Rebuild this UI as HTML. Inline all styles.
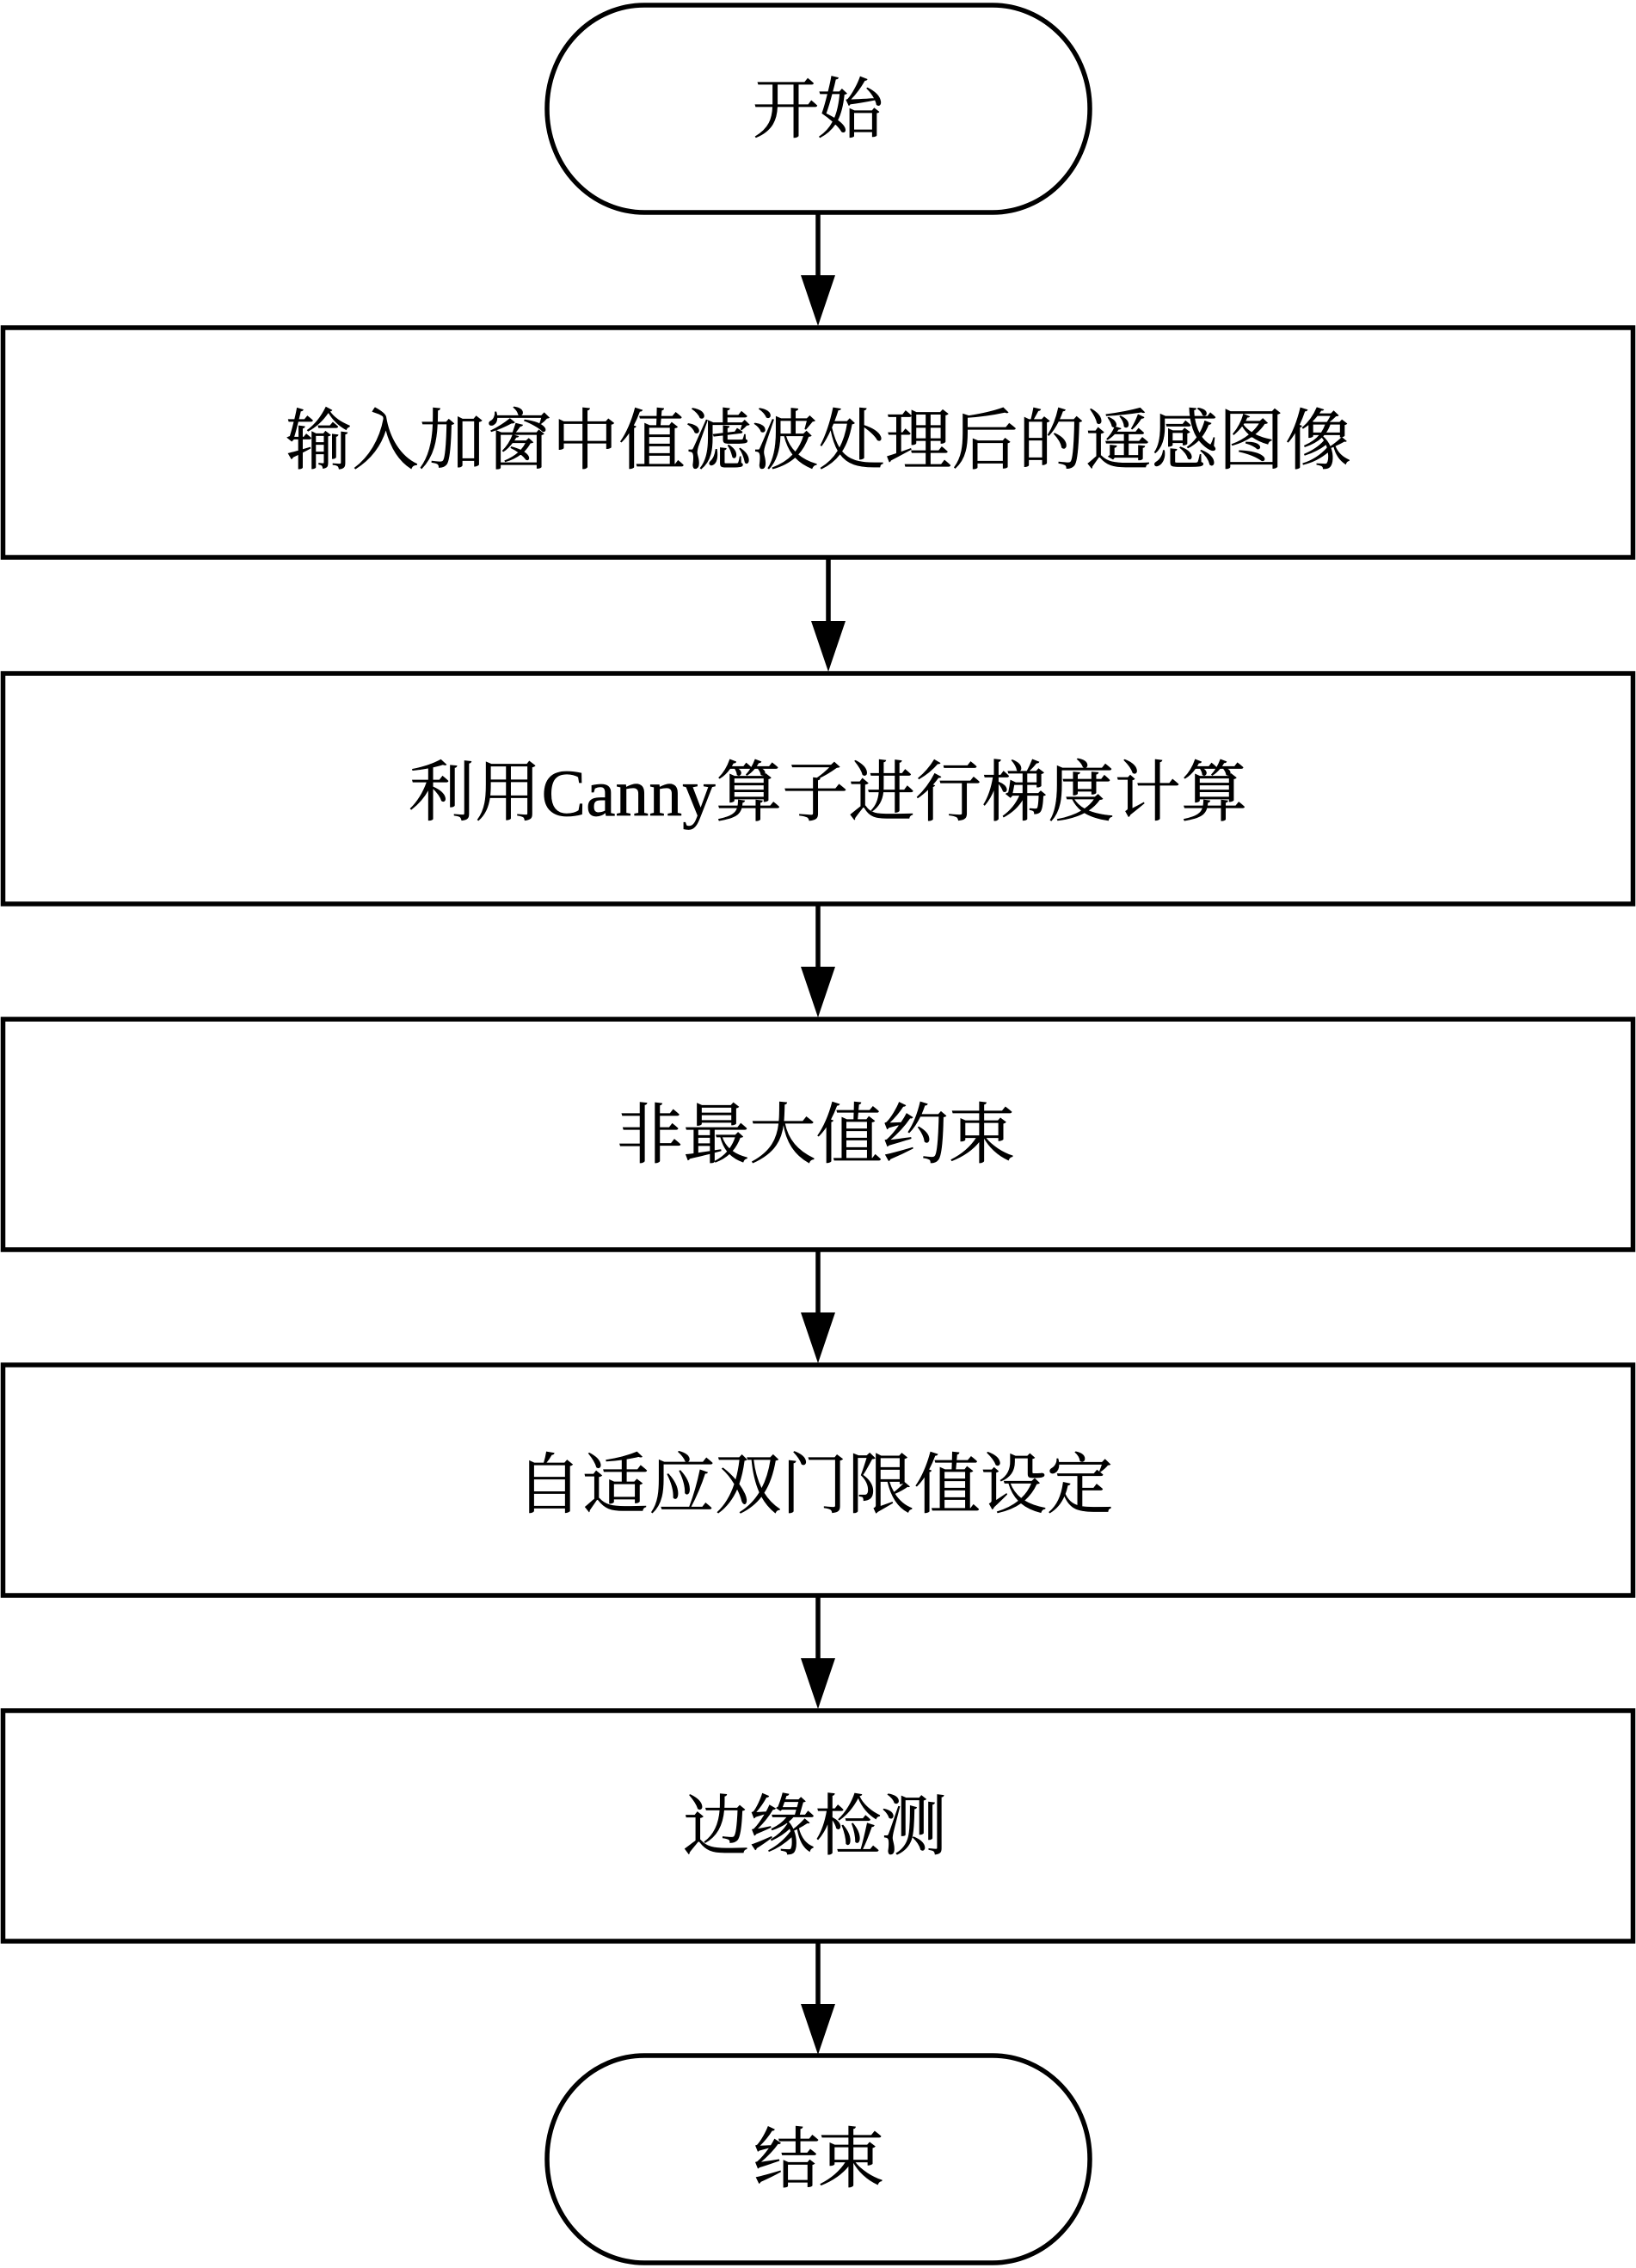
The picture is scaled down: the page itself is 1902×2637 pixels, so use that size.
<!DOCTYPE html>
<html lang="zh">
<head>
<meta charset="utf-8">
<title>流程图</title>
<style>
html,body{margin:0;padding:0;background:#fff;width:1902px;height:2637px;overflow:hidden}
svg{display:block}
text{font-family:"Liberation Serif","Noto Serif CJK SC",serif;font-size:77px;fill:#000;stroke:#000;stroke-width:.7px}
</style>
</head>
<body>
<svg xmlns="http://www.w3.org/2000/svg" width="1902" height="2637" viewBox="0 0 1902 2637">
<rect width="1902" height="2637" fill="#fff"/>
<g fill="#fff" stroke="#000" stroke-width="5.5">
<rect x="636" y="6" width="631" height="241" rx="113" ry="120"/>
<rect x="3.5" y="381" width="1895" height="267"/>
<rect x="3.5" y="783" width="1895" height="268"/>
<rect x="3.5" y="1185" width="1895" height="268"/>
<rect x="3.5" y="1587" width="1895" height="268"/>
<rect x="3.5" y="1989" width="1895" height="268"/>
<rect x="636" y="2390" width="631" height="241" rx="113" ry="120"/>
</g>
<g stroke="#000" stroke-width="5.5">
<line x1="951" y1="247" x2="951" y2="330"/>
<line x1="963" y1="648" x2="963" y2="732"/>
<line x1="951" y1="1051" x2="951" y2="1134"/>
<line x1="951" y1="1453" x2="951" y2="1536"/>
<line x1="951" y1="1855" x2="951" y2="1938"/>
<line x1="951" y1="2257" x2="951" y2="2340"/>
</g>
<g fill="#000">
<polygon points="931,320 971,320 951,379"/>
<polygon points="943,722 983,722 963,781"/>
<polygon points="931,1124 971,1124 951,1183"/>
<polygon points="931,1526 971,1526 951,1585"/>
<polygon points="931,1928 971,1928 951,1987"/>
<polygon points="931,2330 971,2330 951,2389"/>
</g>
<text x="875" y="154" textLength="152" lengthAdjust="spacing">开始</text>
<text x="332" y="539" textLength="1239" lengthAdjust="spacing">输入加窗中值滤波处理后的遥感图像</text>
<text x="475" y="948" textLength="975" lengthAdjust="spacing">利用Canny算子进行梯度计算</text>
<text x="717" y="1346" textLength="463" lengthAdjust="spacing">非最大值约束</text>
<text x="600" y="1753" textLength="694" lengthAdjust="spacing">自适应双门限值设定</text>
<text x="794" y="2150" textLength="307" lengthAdjust="spacing">边缘检测</text>
<text x="876" y="2537" textLength="152" lengthAdjust="spacing">结束</text>
</svg>
</body>
</html>
